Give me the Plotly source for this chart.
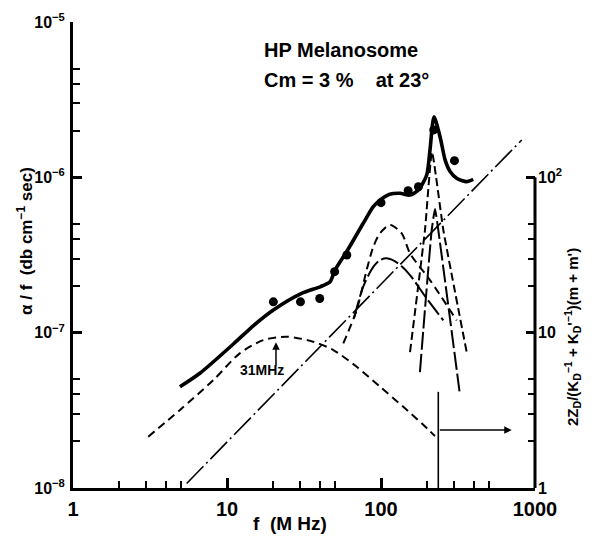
import numpy as np
import plotly.graph_objects as go

# ---- data ----
# measured points
f_pts = [20, 30, 40, 50, 60, 100, 150, 175, 220, 300]
a_pts = [1.58e-7, 1.58e-7, 1.66e-7, 2.47e-7, 3.16e-7, 6.87e-7, 8.2e-7, 8.7e-7, 2.02e-6, 1.28e-6]

# total fitted curve
f_tot = [4.95, 6.7, 11.0, 15.0, 20.0, 30.5, 40.6, 46.7, 50.3, 59.8, 76.7, 89.1, 98.5, 114, 133, 154,
         175, 198, 208, 221, 242, 261, 281, 310, 360, 397]
a_tot = [4.49e-8, 5.50e-8, 8.45e-8, 1.12e-7, 1.40e-7, 1.79e-7, 1.98e-7, 2.13e-7, 2.53e-7, 3.32e-7,
         5.06e-7, 6.47e-7, 7.14e-7, 7.78e-7, 7.89e-7, 7.69e-7, 8.28e-7, 1.035e-6, 1.50e-6, 2.45e-6,
         1.82e-6, 1.29e-6, 1.09e-6, 9.86e-7, 9.38e-7, 9.70e-7]

# low-frequency relaxation component (peak ~31 MHz)
f_r1 = [3.08, 4.95, 8.15, 12.1, 17.2, 24.4, 36.3, 49, 69.5, 98.5, 139.6, 183.7, 224]
a_r1 = [2.14e-8, 3.18e-8, 4.95e-8, 7.36e-8, 8.95e-8, 9.42e-8, 8.75e-8, 7.73e-8, 6.03e-8, 4.49e-8,
        3.33e-8, 2.61e-8, 2.16e-8]

# mid-frequency component, upper (dashed)
f_ra = [56.9, 69.5, 80.7, 89.1, 98.5, 114.4, 136.3, 154.3, 208, 310]
a_ra = [8.53e-8, 1.40e-7, 2.53e-7, 3.57e-7, 4.36e-7, 4.93e-7, 4.36e-7, 3.24e-7, 2.18e-7, 1.20e-7]

# mid-frequency component, lower (long dash)
f_rb = [66.8, 76.7, 89.1, 98.5, 108.9, 129.5, 154.3, 193, 254]
a_rb = [1.24e-7, 1.98e-7, 2.65e-7, 2.93e-7, 3.01e-7, 2.79e-7, 2.35e-7, 1.72e-7, 1.20e-7]

# narrow resonance, tall (dashed)
f_rc = [154.3, 193, 214.3, 254, 360]
a_rc = [7.50e-8, 4.58e-7, 1.456e-6, 4.58e-7, 7.50e-8]

# narrow resonance, lower (long dash)
f_rd = [179, 188.2, 213.4, 224.2, 235.5, 310.3, 325.8]
a_rd = [5.57e-8, 1.04e-7, 4.58e-7, 6.25e-7, 4.58e-7, 5.74e-8, 3.96e-8]

# straight line, right-hand scale
f_line = [5.47, 820]
z_line = [1.07, 174]

# markers / annotations
f_31 = 20.8          # arrow under the low-frequency peak
a_31 = 8.69e-8
f_31_txt = 16.9
a_31_txt = 5.74e-8
f_cut = 235.5        # vertical marker line
a_cut = [1.0e-8, 4.16e-8]
f_arrow_end = 706
a_arrow = 2.36e-8

x_major = [1, 10, 100, 1000]
x_major_txt = ["1", "10", "100", "1000"]
x_minor = [2, 3, 4, 5, 20, 30, 40, 50, 200, 300, 400, 500]
y_major = [1e-8, 1e-7, 1e-6, 1e-5]
y_major_txt = ["10<sup>−8</sup>", "10<sup>−7</sup>", "10<sup>−6</sup>", "10<sup>−5</sup>"]
y_minor = [2e-8, 3e-8, 4e-8, 5e-8, 2e-7, 3e-7, 4e-7, 5e-7, 2e-6, 3e-6, 4e-6, 5e-6]
y2_major = [1, 10, 100]
y2_major_txt = ["1", "10", "10<sup>2</sup>"]
y2_minor = [2, 3, 4, 5, 20, 30, 40, 50]

FONT = "Liberation Sans"
BLK = "black"

fig = go.Figure()

fig.add_trace(go.Scatter(x=f_r1, y=a_r1, mode="lines",
                         line=dict(color=BLK, width=2, dash="8px,5px", shape="spline", smoothing=0.8)))
fig.add_trace(go.Scatter(x=f_ra, y=a_ra, mode="lines",
                         line=dict(color=BLK, width=2, dash="8px,5px", shape="spline", smoothing=0.8)))
fig.add_trace(go.Scatter(x=f_rb, y=a_rb, mode="lines",
                         line=dict(color=BLK, width=2, dash="18px,4px", shape="spline", smoothing=0.8)))
fig.add_trace(go.Scatter(x=f_rc, y=a_rc, mode="lines",
                         line=dict(color=BLK, width=2, dash="8px,4px", shape="spline", smoothing=0.4)))
fig.add_trace(go.Scatter(x=f_rd, y=a_rd, mode="lines",
                         line=dict(color=BLK, width=2, dash="18px,4px", shape="spline", smoothing=0.4)))
fig.add_trace(go.Scatter(x=f_line, y=z_line, mode="lines", yaxis="y2",
                         line=dict(color=BLK, width=1.6, dash="24px,4px,2px,4px")))
fig.add_trace(go.Scatter(x=[f_cut, f_cut], y=a_cut, mode="lines",
                         line=dict(color=BLK, width=1.6)))
fig.add_trace(go.Scatter(x=f_tot, y=a_tot, mode="lines",
                         line=dict(color=BLK, width=3.6, shape="spline", smoothing=0.7)))
fig.add_trace(go.Scatter(x=f_pts, y=a_pts, mode="markers",
                         marker=dict(color=BLK, size=9)))

tickfont_b = dict(family=FONT, size=20, color=BLK, weight="bold")
fig.update_layout(
    width=594, height=540,
    margin=dict(l=73, r=59, t=22, b=52),
    plot_bgcolor="white", paper_bgcolor="white",
    showlegend=False,
    font=dict(family=FONT, color=BLK),
    xaxis=dict(type="log", range=[0, 3], tickvals=x_major, ticktext=x_major_txt,
               ticks="inside", ticklen=10, tickwidth=2.5, tickcolor=BLK,
               showline=True, linewidth=3, linecolor=BLK, showgrid=False, zeroline=False,
               tickfont=tickfont_b, ticklabelstandoff=1,
               minor=dict(tickvals=x_minor, ticks="inside", ticklen=7, tickwidth=2,
                          tickcolor=BLK, showgrid=False)),
    yaxis=dict(type="log", range=[-8, -5], tickvals=y_major, ticktext=y_major_txt,
               ticks="inside", ticklen=9, tickwidth=2.5, tickcolor=BLK,
               showline=True, linewidth=3, linecolor=BLK, showgrid=False, zeroline=False,
               tickfont=dict(family=FONT, size=16, color=BLK, weight="bold"), ticklabelstandoff=2,
               minor=dict(tickvals=y_minor, ticks="inside", ticklen=7, tickwidth=2,
                          tickcolor=BLK, showgrid=False)),
    yaxis2=dict(type="log", range=[0, 3], overlaying="y", side="right", anchor="x",
                tickvals=y2_major, ticktext=y2_major_txt,
                ticks="inside", ticklen=9, tickwidth=2.5, tickcolor=BLK,
                showline=False, showgrid=False, zeroline=False,
                tickfont=dict(family=FONT, size=16, color=BLK, weight="bold"), ticklabelstandoff=2,
                minor=dict(tickvals=y2_minor, ticks="inside", ticklen=7, tickwidth=2,
                           tickcolor=BLK, showgrid=False)),
)

# right axis line only from 1 to 100
fig.add_shape(type="line", xref="paper", x0=1, x1=1, yref="y2", y0=1, y1=100,
              line=dict(color=BLK, width=3))

ann_font = dict(family=FONT, color=BLK, weight="bold")
fig.add_annotation(xref="paper", yref="paper", x=0.409, y=0.940, xanchor="left", yanchor="middle",
                   text="HP Melanosome", showarrow=False, font=dict(size=20, **ann_font))
fig.add_annotation(xref="paper", yref="paper", x=0.409, y=0.876, xanchor="left", yanchor="middle",
                   text="Cm = 3 %    at 23°", showarrow=False, font=dict(size=20, **ann_font))
fig.add_annotation(xref="paper", yref="paper", x=0.470, y=-0.077, xanchor="center", yanchor="middle",
                   text="f  (M Hz)", showarrow=False, font=dict(size=19, **ann_font))
fig.add_annotation(xref="paper", yref="paper", x=-0.104, y=0.530, xanchor="center", yanchor="middle",
                   text="α / f  (db cm<sup>−1</sup> sec)", textangle=-90, showarrow=False,
                   font=dict(size=17, **ann_font))
fig.add_annotation(xref="paper", yref="paper", x=1.080, y=0.324, xanchor="center", yanchor="middle",
                   text="2Z<sub>D</sub>/(K<sub>D</sub><sup>−1</sup> + K<sub>D</sub>'<sup>−1</sup>)(m + m')",
                   textangle=-90, showarrow=False, font=dict(size=15, **ann_font))

# 31 MHz label and arrow
fig.add_annotation(x=np.log10(f_31), y=np.log10(a_31), xref="x", yref="y", text="",
                   showarrow=True, ax=0, ay=25, arrowhead=2, arrowsize=1, arrowwidth=1.5,
                   arrowcolor=BLK)
fig.add_annotation(x=np.log10(f_31_txt), y=np.log10(a_31_txt), xref="x", yref="y", text="31MHz",
                   showarrow=False, font=dict(size=14, **ann_font))
# horizontal arrow pointing to the right-hand scale
fig.add_annotation(x=np.log10(f_arrow_end), y=np.log10(a_arrow), xref="x", yref="y",
                   ax=np.log10(f_cut), ay=np.log10(a_arrow), axref="x", ayref="y", text="",
                   showarrow=True, arrowhead=2, arrowsize=1, arrowwidth=1.5, arrowcolor=BLK)

fig.write_html("out.html", config={"displayModeBar": False},
               post_script="document.body.style.margin='0';document.body.style.overflow='hidden';")
